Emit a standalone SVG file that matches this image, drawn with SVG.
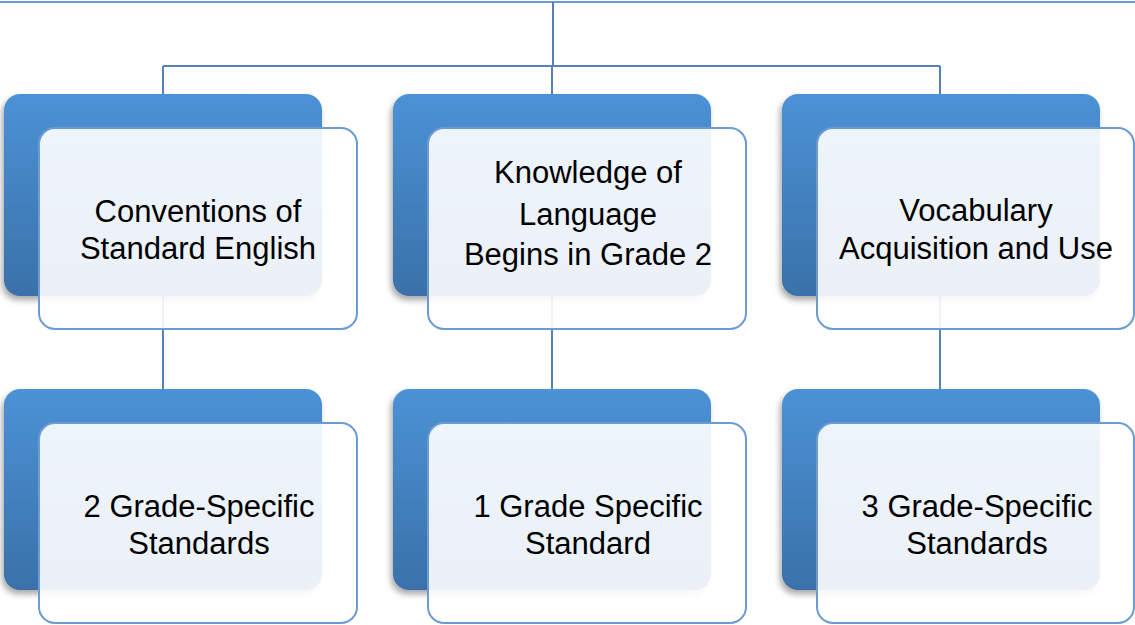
<svg xmlns="http://www.w3.org/2000/svg" width="1135" height="625" viewBox="0 0 1135 625">
<defs>
<linearGradient id="dg" x1="0" y1="0" x2="0" y2="1">
<stop offset="0" stop-color="#4b92d6"/>
<stop offset="1" stop-color="#3a71a9"/>
</linearGradient>
<filter id="sh" x="-10%" y="-10%" width="120%" height="125%">
<feDropShadow dx="-2" dy="4" stdDeviation="3" flood-color="#000" flood-opacity="0.35"/>
</filter>
<style>
.back{fill:url(#dg);filter:url(#sh)}
.front{fill:#ffffff;fill-opacity:0.9;stroke:#6b9bd1;stroke-width:2}
.lbl{font-family:"Liberation Sans",Arial,sans-serif;font-size:31px;fill:#000;text-anchor:middle}
.con{fill:none;stroke:#5682b9;stroke-width:2}
</style>
</defs>
<rect x="-10" y="-60" width="1160" height="62" fill="#fff" stroke="#6b9bd1" stroke-width="2"/>
<g id="connectors">
<path class="con" d="M553 2V66M163 66H940M163 66V96M552 66V96M940 66V96"/>
<path class="con" d="M163 296V391M552 296V391M940 296V391"/>
</g>
<g id="n1">
<rect class="back" x="4" y="94" width="318" height="202" rx="16"/>
<rect class="front" x="39" y="128" width="318" height="201" rx="16"/>
<text class="lbl" x="198" y="222">Conventions of</text>
<text class="lbl" x="198" y="259">Standard English</text>
</g>
<g id="n2">
<rect class="back" x="393" y="94" width="318" height="202" rx="16"/>
<rect class="front" x="428" y="128" width="318" height="201" rx="16"/>
<text class="lbl" x="588" y="183">Knowledge of</text>
<text class="lbl" x="588" y="225">Language</text>
<text class="lbl" x="588" y="265">Begins in Grade 2</text>
</g>
<g id="n3">
<rect class="back" x="782" y="94" width="318" height="202" rx="16"/>
<rect class="front" x="817" y="128" width="317" height="201" rx="16"/>
<text class="lbl" x="976" y="221">Vocabulary</text>
<text class="lbl" x="976" y="259">Acquisition and Use</text>
</g>
<g id="n4">
<rect class="back" x="4" y="389" width="318" height="201" rx="16"/>
<rect class="front" x="39" y="423" width="318" height="200" rx="16"/>
<text class="lbl" x="199" y="517">2 Grade-Specific</text>
<text class="lbl" x="199" y="554">Standards</text>
</g>
<g id="n5">
<rect class="back" x="393" y="389" width="318" height="201" rx="16"/>
<rect class="front" x="428" y="423" width="318" height="200" rx="16"/>
<text class="lbl" x="588" y="517">1 Grade Specific</text>
<text class="lbl" x="588" y="554">Standard</text>
</g>
<g id="n6">
<rect class="back" x="782" y="389" width="318" height="201" rx="16"/>
<rect class="front" x="817" y="423" width="317" height="200" rx="16"/>
<text class="lbl" x="977" y="517">3 Grade-Specific</text>
<text class="lbl" x="977" y="554">Standards</text>
</g>
</svg>
